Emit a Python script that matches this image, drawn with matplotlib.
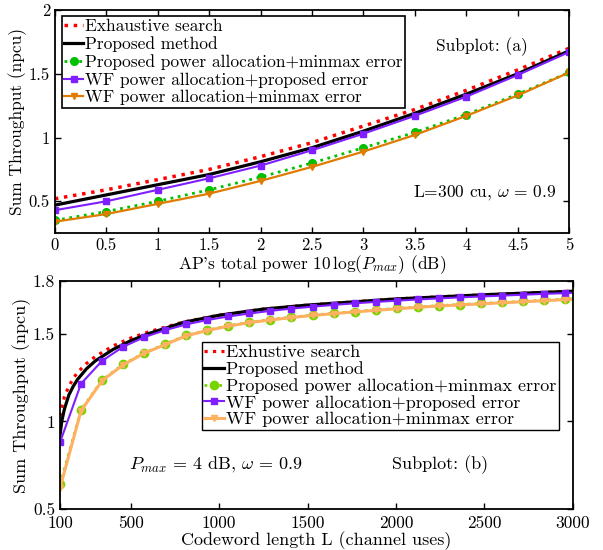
import matplotlib
matplotlib.use("Agg")
import matplotlib.pyplot as plt

plt.rcParams['font.family'] = 'cmr10'
plt.rcParams['mathtext.fontset'] = 'cm'
plt.rcParams['axes.formatter.use_mathtext'] = True
plt.rcParams['axes.unicode_minus'] = False

# Subplot (a): sum throughput vs AP power
power_db = [0, 0.5, 1, 1.5, 2, 2.5, 3, 3.5, 4, 4.5, 5]
exhaustive_a = [0.52, 0.59, 0.67, 0.75, 0.85, 0.96, 1.09, 1.22, 1.37, 1.53, 1.70]
proposed_a = [0.47, 0.55, 0.63, 0.71, 0.81, 0.92, 1.05, 1.19, 1.34, 1.50, 1.68]
prop_minmax_a = [0.35, 0.42, 0.50, 0.59, 0.69, 0.80, 0.92, 1.04, 1.18, 1.34, 1.51]
wf_prop_a = [0.43, 0.50, 0.59, 0.68, 0.78, 0.90, 1.03, 1.17, 1.32, 1.49, 1.67]
wf_minmax_a = [0.34, 0.40, 0.48, 0.56, 0.66, 0.77, 0.89, 1.02, 1.17, 1.33, 1.51]

# Subplot (b): sum throughput vs codeword length
L_curve = [100, 110, 125, 150, 175, 200, 250, 300, 400, 500, 600, 800,
           1000, 1250, 1500, 2000, 2500, 3000]
exhaustive_b = [1.03, 1.08, 1.14, 1.20, 1.245, 1.28, 1.33, 1.37, 1.43, 1.475,
                1.51, 1.567, 1.606, 1.64, 1.663, 1.698, 1.722, 1.742]
proposed_b = [0.92, 1.00, 1.07, 1.15, 1.20, 1.24, 1.30, 1.345, 1.41, 1.46,
              1.50, 1.565, 1.605, 1.64, 1.663, 1.698, 1.722, 1.742]
L_marked = list(range(100, 3000, 119)) + [3000]
prop_minmax_b = [0.64, 1.065, 1.235, 1.325, 1.39, 1.44, 1.49, 1.52, 1.545, 1.565,
                 1.58, 1.594, 1.606, 1.616, 1.626, 1.635, 1.644, 1.652, 1.66,
                 1.666, 1.672, 1.678, 1.684, 1.69, 1.696, 1.698]
wf_prop_b = [0.88, 1.215, 1.345, 1.425, 1.48, 1.52, 1.553, 1.578, 1.598, 1.615,
             1.63, 1.643, 1.654, 1.664, 1.673, 1.681, 1.688, 1.695, 1.701,
             1.707, 1.712, 1.717, 1.722, 1.727, 1.731, 1.733]
wf_minmax_b = [0.62, 1.06, 1.232, 1.322, 1.388, 1.438, 1.488, 1.518, 1.543, 1.563,
               1.578, 1.592, 1.604, 1.614, 1.624, 1.633, 1.642, 1.65, 1.658,
               1.664, 1.67, 1.676, 1.682, 1.688, 1.694, 1.696]

fig = plt.figure(figsize=(6.03, 5.5), dpi=100)
ax1 = fig.add_axes([0.091, 0.576, 0.853, 0.406])
ax2 = fig.add_axes([0.0995, 0.0745, 0.8505, 0.4145])

fa = 12.5
fb = 13

# ---- subplot (a)
ax1.plot(power_db, exhaustive_a, ':', color='red', lw=2.5, label='Exhaustive search')
ax1.plot(power_db, proposed_a, '-', color='black', lw=2.3, label='Proposed method')
ax1.plot(power_db, prop_minmax_a, ':', color='#00c000', lw=2, marker='o', ms=5.5,
         label='Proposed power allocation+minmax error')
ax1.plot(power_db, wf_prop_a, '-', color='#7f1fff', lw=1.5, marker='s', ms=4,
         label='WF power allocation+proposed error')
ax1.plot(power_db, wf_minmax_a, '-', color='#e07b00', lw=1.6, marker='v', ms=5,
         label='WF power allocation+minmax error')
ax1.set_xlim(0, 5)
ax1.set_ylim(0.25, 2)
ax1.set_xticks(power_db)
ax1.set_xticklabels(['0', '0.5', '1', '1.5', '2', '2.5', '3', '3.5', '4', '4.5', '5'])
ax1.set_yticks([0.5, 1, 1.5, 2])
ax1.set_yticklabels(['0.5', '1', '1.5', '2'])
ax1.set_xlabel(r"AP's total power $10\,\log(P_{max})$ (dB)", fontsize=fa, labelpad=0)
ax1.set_ylabel('Sum Throughput (npcu)', fontsize=fa, labelpad=1)
ax1.text(4.15, 1.71, 'Subplot: (a)', fontsize=fa, ha='center', va='center')
ax1.text(4.88, 0.57, r'L=300 cu, $\omega$ = 0.9', fontsize=fa, ha='right', va='center')
leg1 = ax1.legend(loc='upper left', bbox_to_anchor=(0.0136, 0.973), borderaxespad=0,
                  fontsize=fa, handlelength=1.05, handletextpad=0.12, labelspacing=0.12,
                  borderpad=0.15, fancybox=False, framealpha=1, edgecolor='black')
leg1.get_frame().set_linewidth(1.2)

# ---- subplot (b)
ax2.plot(L_curve, exhaustive_b, ':', color='red', lw=2.3, label='Exhustive search')
ax2.plot(L_curve, proposed_b, '-', color='black', lw=2.3, label='Proposed method')
ax2.plot(L_marked, prop_minmax_b, ':', color='#77d400', lw=2, marker='o', ms=6,
         markevery=slice(0, 25), label='Proposed power allocation+minmax error')
ax2.plot(L_marked, wf_prop_b, '-', color='#7f1fff', lw=1.5, marker='s', ms=4,
         markevery=slice(0, 25), label='WF power allocation+proposed error')
ax2.plot(L_marked, wf_minmax_b, '-', color='#ffb060', lw=2.2, marker='v', ms=5,
         markevery=slice(0, 25), label='WF power allocation+minmax error')
ax2.set_xlim(100, 3000)
ax2.set_ylim(0.5, 1.8)
ax2.set_xticks([100, 500, 1000, 1500, 2000, 2500, 3000])
ax2.set_xticklabels(['100', '500', '1000', '1500', '2000', '2500', '3000'])
ax2.set_yticks([0.5, 1, 1.5, 1.8])
ax2.set_yticklabels(['0.5', '1', '1.5', '1.8'])
ax2.set_xlabel('Codeword length L (channel uses)', fontsize=fb, labelpad=0)
ax2.set_ylabel('Sum Throughput (npcu)', fontsize=fb, labelpad=1)
ax2.text(490, 0.755, r'$P_{max}$ = 4 dB, $\omega$ = 0.9', fontsize=fb, ha='left', va='center')
ax2.text(2248, 0.755, 'Subplot: (b)', fontsize=fb, ha='center', va='center')
leg2 = ax2.legend(loc='upper right', bbox_to_anchor=(0.973, 0.732), borderaxespad=0,
                  fontsize=fb, handlelength=1.1, handletextpad=0.1, labelspacing=0.05,
                  borderpad=0.15, fancybox=False, framealpha=1, edgecolor='black')
leg2.get_frame().set_linewidth(1.0)

ax1.tick_params(direction='in', top=True, right=True, labelsize=12, length=4, width=1)
ax2.tick_params(direction='in', top=True, right=True, labelsize=12.5, length=4, width=1)
ax2.tick_params(axis='x', pad=5)
for ax in (ax1, ax2):
    for s in ax.spines.values():
        s.set_linewidth(1.3)

fig.savefig('out.png', dpi=100)
